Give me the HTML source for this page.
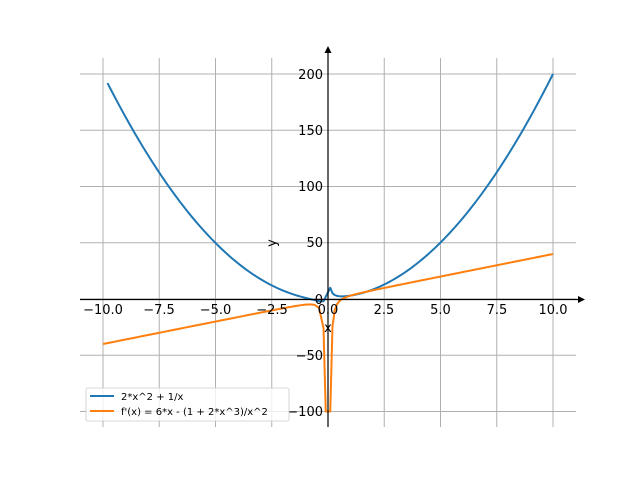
<!DOCTYPE html>
<html><head><style>body{margin:0;background:#fff}svg{display:block}text{font-family:"DejaVu Sans","Liberation Sans",sans-serif;font-size:13px;fill:#000}</style></head>
<body>
<svg id="s" width="640" height="480" xmlns="http://www.w3.org/2000/svg">
<g stroke="#b0b0b0" stroke-width="1">
<line x1="103" y1="58" x2="103" y2="427"/><line x1="159.25" y1="58" x2="159.25" y2="427"/><line x1="215.5" y1="58" x2="215.5" y2="427"/><line x1="271.75" y1="58" x2="271.75" y2="427"/><line x1="328" y1="58" x2="328" y2="427"/><line x1="384.25" y1="58" x2="384.25" y2="427"/><line x1="440.5" y1="58" x2="440.5" y2="427"/><line x1="496.75" y1="58" x2="496.75" y2="427"/><line x1="553" y1="58" x2="553" y2="427"/>
<line x1="80" y1="74" x2="576" y2="74"/><line x1="80" y1="130.25" x2="576" y2="130.25"/><line x1="80" y1="186.5" x2="576" y2="186.5"/><line x1="80" y1="242.75" x2="576" y2="242.75"/><line x1="80" y1="299" x2="576" y2="299"/><line x1="80" y1="355.25" x2="576" y2="355.25"/><line x1="80" y1="411.5" x2="576" y2="411.5"/>
</g>
<g id="curves"></g>
<line x1="80" y1="299.5" x2="580" y2="299.5" stroke="#000" stroke-width="1.2"/>
<polygon points="585,299.5 578,296 578,303" fill="#000"/>
<line x1="328" y1="427" x2="328" y2="52" stroke="#000" stroke-width="1.2"/>
<polygon points="328,46 324.5,53 331.5,53" fill="#000"/>
<g text-anchor="middle">
<text x="103" y="314">−10.0</text><text x="159" y="314">−7.5</text><text x="215.5" y="314">−5.0</text><text x="272" y="314">−2.5</text><text x="328" y="314">0.0</text><text x="384" y="314">2.5</text><text x="440.5" y="314">5.0</text><text x="497" y="314">7.5</text><text x="553" y="314">10.0</text>
<text x="328" y="332">x</text>
</g>
<g text-anchor="end">
<text x="323" y="79">200</text><text x="323" y="135">150</text><text x="323" y="191">100</text><text x="323" y="247">50</text><text x="323" y="304">0</text><text x="323" y="360">−50</text><text x="323" y="416">−100</text>
</g>
<text transform="translate(276,243) rotate(-90)" text-anchor="middle">y</text>
<rect x="86" y="388" width="203" height="33" fill="#fff" fill-opacity="0.8" stroke="#ccc" stroke-width="0.8" rx="2"/>
<line x1="90" y1="396" x2="114" y2="396" stroke="#1f77b4" stroke-width="2"/>
<line x1="90" y1="411" x2="114" y2="411" stroke="#ff7f0e" stroke-width="2"/>
<text x="121" y="400" style="font-size:10px">2*x^2 + 1/x</text>
<text x="121" y="415" style="font-size:10px">f'(x) = 6*x - (1 + 2*x^3)/x^2</text>
</svg>
<script>
function X(x){return 328+22.5*x}function Y(y){return 299-1.125*y}
var b=[],o=[];
for(var x=-9.8;x<-0.15;x+=0.2){var y=2*x*x+1/x;if(y<-2)y=-2;b.push(X(x)+","+Y(y));}
b.push(X(0.1)+","+Y(10));
for(var x=0.2;x<=10.001;x+=0.1){b.push(X(x)+","+Y(2*x*x+1/x));}
for(var x=-10;x<-0.15;x+=0.2){o.push(X(x)+","+Y(4*x-1/(x*x)));}
o.push(X(-0.1)+","+Y(-100));o.push(X(0.1)+","+Y(-100));
for(var x=0.2;x<=10.001;x+=0.1){o.push(X(x)+","+Y(Math.max(-100,4*x-1/(x*x))));}
document.getElementById("curves").innerHTML='<polyline fill="none" stroke="#1f77b4" stroke-width="2" stroke-linejoin="round" points="'+b.join(" ")+'"/><polyline fill="none" stroke="#ff7f0e" stroke-width="2" stroke-linejoin="round" points="'+o.join(" ")+'"/>';
</script>
</body></html>
